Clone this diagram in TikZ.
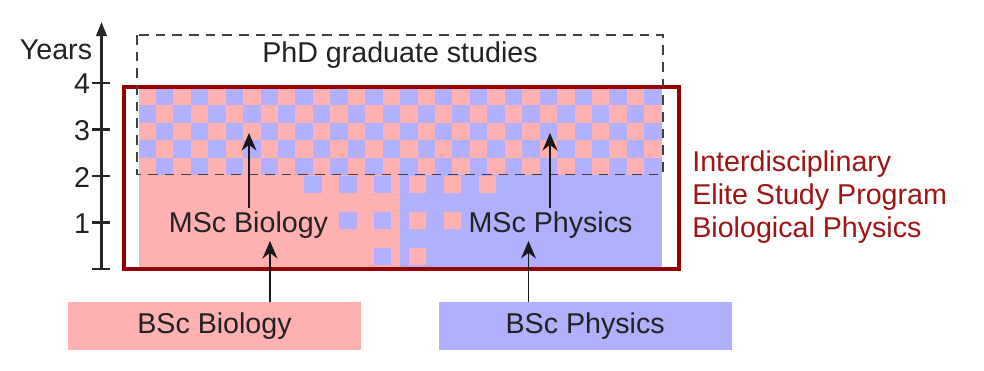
\documentclass[tikz,border=0pt]{standalone}
\usepackage{fontspec}
\setmainfont{Liberation Sans}
\usetikzlibrary{arrows.meta,positioning}
\definecolor{pinkfill}{RGB}{255,176,176}
\definecolor{bluefill}{RGB}{176,176,255}
\definecolor{framered}{RGB}{150,0,0}
\definecolor{txtred}{RGB}{160,20,20}
\definecolor{txtgray}{RGB}{34,34,34}
\tikzset{
  lbl/.style={font=\fontsize{16.3}{18.8}\selectfont,text=txtgray,inner sep=1.5pt},
  bscblk/.style={lbl,rectangle,minimum width=5.86cm,minimum height=0.96cm},
  biosq/.style={fill=pinkfill},
  physq/.style={fill=bluefill},
  prgframe/.style={draw=framered,line width=2.2pt},
  phdbox/.style={draw=black!75,line width=1.1pt,dash pattern=on 5.5pt off 4pt},
  axisln/.style={line width=1.3pt,black!85},
  arr/.style={-{Stealth[length=10pt,width=8.5pt]},line width=1.1pt,black!90}
}

\begin{document}
\begin{tikzpicture}[x=0.02cm,y=-0.02cm]
  \useasboundingbox (0,0) rectangle (984,370);
  \fill[white] (0,0) rectangle (984,370);

  % master tracks
  \fill[biosq] (138.5,87) rectangle (400.1,269);
  \fill[physq] (400.1,87) rectangle (661.7,269);

  % mixed years 3 and 4
  \foreach \i in {0,...,29}
    \foreach \j in {0,...,4}{
      \ifodd\numexpr\i+\j\relax
        \fill[physq] ({138.5+17.44*\i},{87.5+17.5*\j}) rectangle ++(17.44,17.5);
      \else
        \fill[biosq] ({138.5+17.44*\i},{87.5+17.5*\j}) rectangle ++(17.44,17.5);
      \fi}

  % crossing courses
  \foreach \r in {0,1,2}{
    \pgfmathtruncatemacro\nsq{2-\r}
    \foreach \k in {0,...,\nsq}{
      \fill[physq] ({400.1-(2*\k+1.5)*17.44},{176+36*\r}) rectangle ++(17.44,17.4);
      \fill[biosq] ({400.1+(2*\k+0.5)*17.44},{176+36*\r}) rectangle ++(17.44,17.4);
    }}

  \draw[prgframe] (124,87) rectangle (679,269);
  \draw[phdbox] (137.3,35) rectangle (662.7,174.5);

  % time axis
  \coordinate (ax0) at (101.5,269);
  \coordinate (axtop) at (101.5,22);
  \draw[axisln,-{Triangle[length=8pt,width=6pt]}] (ax0) -- (axtop);
  \foreach \y in {0,...,4}
    \draw[axisln] (92,{269-46.5*\y}) -- (110,{269-46.5*\y});
  \foreach \y in {1,...,4}
    \node[lbl,anchor=east,inner sep=0pt] (yr\y) at (90.5,{270-46.5*\y}) {\y};
  \node[lbl,anchor=base] (years) at (56,59) {Years};

  \node[lbl,anchor=base] (phd) at (400,62) {PhD graduate studies};
  \node[lbl,anchor=base] (mscbio) at (248.5,232) {MSc Biology};
  \node[lbl,anchor=base] (mscphy) at (550.5,232) {MSc Physics};
  \node[bscblk,fill=pinkfill] (bscbio) at (214.5,326) {BSc Biology};
  \node[bscblk,fill=bluefill,right=1.54cm of bscbio] (bscphy) {BSc Physics};
  \node[lbl,text=txtred,align=left,anchor=west,inner sep=0pt] (elite) at (692,197.5)
    {Interdisciplinary\\Elite Study Program\\Biological Physics};

  \coordinate (biox) at (270,0);
  \coordinate (phyx) at (528.5,0);
  \coordinate (phdbio) at (249,133);
  \coordinate (phdphy) at (550,133);
  \draw[arr] (biox |- bscbio.north) -- (biox |- mscbio.south);
  \draw[arr] (phyx |- bscphy.north) -- (phyx |- mscphy.south);
  \draw[arr] (mscbio.north -| phdbio) -- (phdbio);
  \draw[arr] (mscphy.north -| phdphy) -- (phdphy);
\end{tikzpicture}
\end{document}
